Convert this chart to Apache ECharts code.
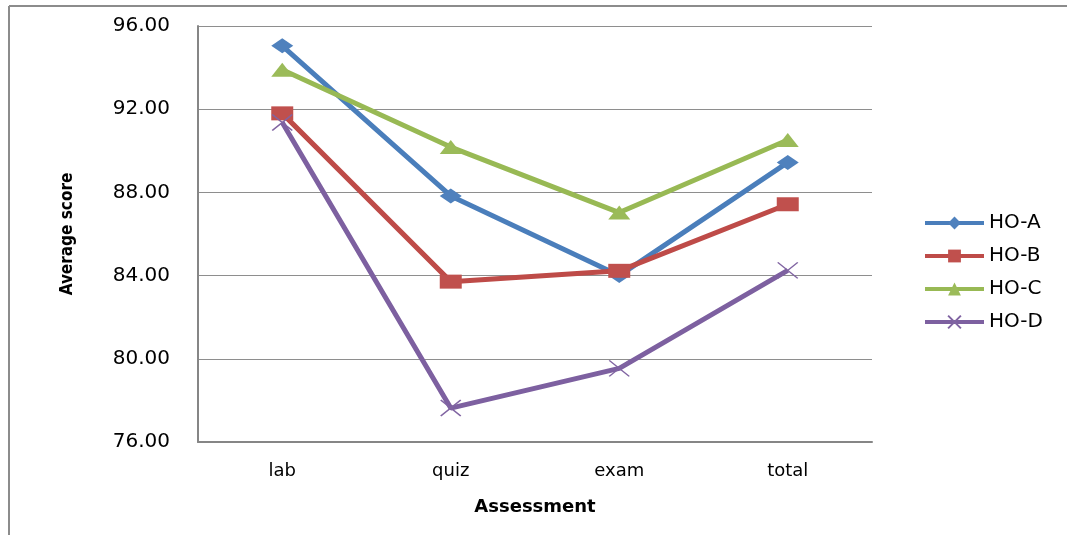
<!DOCTYPE html>
<html>
<head>
<meta charset="utf-8">
<title>Average score by assessment</title>
<script src="https://cdn.jsdelivr.net/npm/echarts@6/dist/echarts.min.js"></script>
<style>
  html, body { margin: 0; padding: 0; background: #fff; }
  #chart { width: 1067px; height: 535px; }
</style>
</head>
<body>
<div id="chart"></div>
<script>
// Assessment categories and average scores per group
const categories = ['lab', 'quiz', 'exam', 'total'];
const hoA = [95.05, 87.83, 84.00, 89.44];
const hoB = [91.80, 83.71, 84.23, 87.43];
const hoC = [93.90, 90.18, 87.03, 90.52];
const hoD = [91.36, 77.63, 79.54, 84.25];
const seriesNames = ['HO-A', 'HO-B', 'HO-C', 'HO-D'];
const yTicks = { min: 76, max: 96, step: 4 };

const tickFont = '"DejaVu Sans", Verdana, sans-serif';
const crossPath = 'path://M0,0L10,10M10,0L0,10';

function lineSeries(name, data, lineColor, markColor, symbol, size, extra) {
  return Object.assign({
    name: name,
    type: 'line',
    data: data,
    symbol: symbol,
    symbolSize: size,
    showAllSymbol: true,
    lineStyle: { color: lineColor, width: 5 },
    itemStyle: { color: markColor, borderWidth: 0 },
    emphasis: { disabled: true },
    animation: false
  }, extra || {});
}

const chart = echarts.init(document.getElementById('chart'), null, { renderer: 'canvas' });

chart.setOption({
  backgroundColor: '#ffffff',
  animation: false,
  graphic: [
    { type: 'line', shape: { x1: 9, y1: 6, x2: 1067, y2: 6 }, style: { stroke: '#8c8c8c', lineWidth: 2 }, silent: true },
    { type: 'line', shape: { x1: 9, y1: 6, x2: 9, y2: 535 }, style: { stroke: '#8c8c8c', lineWidth: 2 }, silent: true }
  ],
  grid: { left: 198, right: 195, top: 26, bottom: 93, containLabel: false },
  legend: {
    orient: 'vertical',
    left: 918,
    top: 208,
    itemWidth: 59,
    itemHeight: 16,
    itemGap: 13,
    data: seriesNames,
    lineStyle: { width: 4 },
    textStyle: { fontFamily: tickFont, fontSize: 20, color: '#000', lineHeight: 19, padding: [0, 0, 0, 0] }
  },
  xAxis: {
    type: 'category',
    data: categories,
    boundaryGap: true,
    axisLine: { show: true, lineStyle: { color: '#868686', width: 2 } },
    axisTick: { show: false },
    axisLabel: { fontFamily: tickFont, fontSize: 18, color: '#000', margin: 20 },
    name: 'Assessment',
    nameLocation: 'middle',
    nameGap: 56,
    nameTextStyle: { fontFamily: tickFont, fontSize: 18, fontWeight: 'bold', color: '#000' }
  },
  yAxis: {
    type: 'value',
    min: yTicks.min,
    max: yTicks.max,
    interval: yTicks.step,
    axisLine: { show: true, lineStyle: { color: '#868686', width: 2 } },
    axisTick: { show: false },
    splitLine: { show: true, lineStyle: { color: '#8e8e8e', width: 1 } },
    axisLabel: {
      fontFamily: tickFont, fontSize: 20, color: '#000', margin: 28,
      formatter: v => v.toFixed(2)
    },
    name: 'Average score',
    nameLocation: 'middle',
    nameRotate: 90,
    nameGap: 122,
    nameTextStyle: {
      fontFamily: '"DejaVu Sans Condensed", "Liberation Sans Narrow", "Open Sans", sans-serif',
      fontSize: 17, fontWeight: 'bold', color: '#000'
    }
  },
  series: [
    lineSeries(seriesNames[0], hoA, '#4A7EBB', '#4F81BD', 'diamond', [22, 15]),
    lineSeries(seriesNames[1], hoB, '#BE4B48', '#C0504D', 'rect', [22, 14]),
    lineSeries(seriesNames[2], hoC, '#98B954', '#9BBB59', 'triangle', [22, 14]),
    lineSeries(seriesNames[3], hoD, '#7D60A0', '#8064A2', crossPath, [20, 16], {
      itemStyle: { color: 'rgba(0,0,0,0)', borderColor: '#8064A2', borderWidth: 1.5 }
    })
  ]
});
</script>
</body>
</html>
